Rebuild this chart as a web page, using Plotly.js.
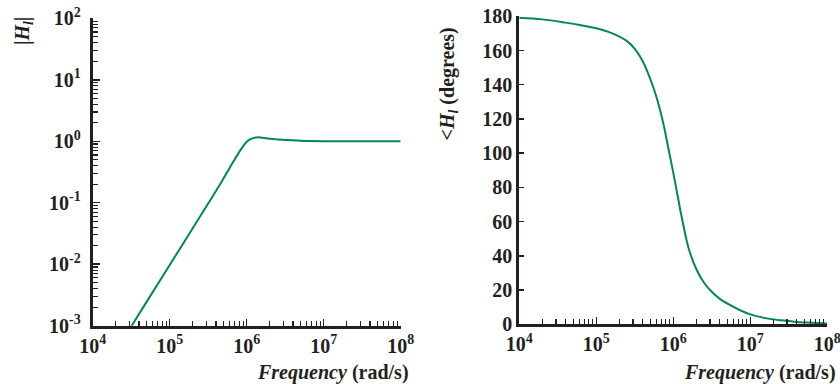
<!DOCTYPE html>
<html>
<head>
<meta charset="utf-8">
<script src="https://cdn.plot.ly/plotly-3.0.1.min.js"></script>
<style>html,body{margin:0;padding:0;background:#fff;}#chart{width:840px;height:384px;}</style>
</head>
<body>
<div id="chart"></div>
<script>
// Magnitude |H_l| vs frequency (rad/s)
var magFreq = [1e4, 3.16e4, 1e5, 2e5, 3.16e5, 4.27e5, 5.01e5, 6.31e5, 7.94e5, 8.91e5, 1e6, 1.12e6, 1.26e6, 1.41e6, 1.58e6, 2e6, 2.51e6, 3.16e6, 5.01e6, 1e7, 1e8];
var magVal  = [9.7e-5, 9.7e-4, 0.0097, 0.0388, 0.097, 0.178, 0.25, 0.41, 0.66, 0.82, 0.98, 1.08, 1.14, 1.16, 1.14, 1.10, 1.07, 1.045, 1.02, 1.005, 1.0];

// Phase <H_l (degrees) vs frequency (rad/s)
var phFreq = [1e4, 2e4, 3.98e4, 6.31e4, 1e5, 1.58e5, 2.51e5, 3.16e5, 3.98e5, 5.01e5, 6.03e5, 7.41e5, 8.32e5, 9.12e5, 1e6, 1.096e6, 1.2e6, 1.35e6, 1.58e6, 2e6, 2.51e6, 3.16e6, 3.98e6, 6.31e6, 1e7, 1.58e7, 2.51e7, 3.98e7, 6.31e7, 1e8];
var phVal  = [179.2, 178.2, 176.3, 174.8, 173.0, 170.2, 165.5, 161, 154, 143.5, 133, 117.5, 106.5, 97.5, 88.5, 79, 69.5, 58, 44.5, 32, 24.3, 19, 15, 9.8, 5.8, 3.6, 2.3, 1.4, 0.9, 0.5];

// Tick labels
var freqTickVals = [1e4, 1e5, 1e6, 1e7, 1e8];
var freqTickText = ['10<sup>4</sup>', '10<sup>5</sup>', '10<sup>6</sup>', '10<sup>7</sup>', '10<sup>8</sup>'];
var magTickVals = [1e-3, 1e-2, 1e-1, 1e0, 1e1, 1e2];
var magTickText = ['10<sup>-3</sup>', '10<sup>-2</sup>', '10<sup>-1</sup>', '10<sup>0</sup>', '10<sup>1</sup>', '10<sup>2</sup>'];
var phTickVals = [0, 20, 40, 60, 80, 100, 120, 140, 160, 180];

var green = '#00875a';
var axCol = '#231f20';
var fontFam = 'Liberation Serif';
var tickFont = {family: fontFam, size: 20, color: axCol, weight: 'bold'};
var pad = '\u00a0';

var traces = [
  {x: magFreq, y: magVal, type: 'scatter', mode: 'lines', line: {color: green, width: 2, shape: 'spline', smoothing: 1}, xaxis: 'x', yaxis: 'y', hoverinfo: 'skip'},
  {x: phFreq, y: phVal, type: 'scatter', mode: 'lines', line: {color: green, width: 2, shape: 'spline', smoothing: 1}, xaxis: 'x2', yaxis: 'y2', hoverinfo: 'skip'}
];

function logX(domain, anchor) {
  return {
    type: 'log', domain: domain, anchor: anchor, range: [4, 8],
    tickmode: 'array', tickvals: freqTickVals, ticktext: freqTickText,
    ticks: 'inside', ticklen: 7, tickwidth: 1.5, tickcolor: axCol,
    minor: {dtick: 'D1', ticks: 'inside', ticklen: 5, tickwidth: 1.2, tickcolor: axCol, showgrid: false},
    showline: true, linecolor: axCol, linewidth: 3, showgrid: false, zeroline: false,
    tickfont: tickFont, ticklabeloverflow: 'allow', fixedrange: true
  };
}

var layout = {
  width: 840, height: 384,
  margin: {l: 0, r: 0, t: 0, b: 0},
  paper_bgcolor: '#fff', plot_bgcolor: '#fff',
  showlegend: false,
  xaxis: logX([92.7/840, 400.7/840], 'y'),
  xaxis2: logX([519.3/840, 827.3/840], 'y2'),
  yaxis: {
    type: 'log', domain: [1 - 325.7/384, 1 - 18.3/384], anchor: 'x', range: [-3, 2],
    tickmode: 'array', tickvals: magTickVals, ticktext: magTickText.map(function (t) { return t + pad; }),
    ticks: 'inside', ticklen: 7, tickwidth: 1.5, tickcolor: axCol,
    minor: {dtick: 'D1', ticks: 'inside', ticklen: 5, tickwidth: 1.2, tickcolor: axCol, showgrid: false},
    showline: true, linecolor: axCol, linewidth: 3, showgrid: false, zeroline: false,
    tickfont: tickFont, ticklabeloverflow: 'allow', fixedrange: true
  },
  yaxis2: {
    domain: [1 - 324.3/384, 1 - 16.3/384], anchor: 'x2', range: [0, 180],
    tickmode: 'array', tickvals: phTickVals, ticksuffix: pad,
    ticks: 'inside', ticklen: 5, tickwidth: 1.5, tickcolor: axCol,
    showline: true, linecolor: axCol, linewidth: 3, showgrid: false, zeroline: false,
    tickfont: tickFont, ticklabeloverflow: 'allow', fixedrange: true
  },
  annotations: [
    {xref: 'paper', yref: 'paper', x: 23/840, y: 1 - 15/384, xanchor: 'center', yanchor: 'top', textangle: -90, showarrow: false,
     text: '<b>|<i>H<sub>l</sub></i>|</b>', font: {family: fontFam, size: 20, color: axCol}},
    {xref: 'paper', yref: 'paper', x: 448/840, y: 1 - 26/384, xanchor: 'center', yanchor: 'top', textangle: -90, showarrow: false,
     text: '<b>&lt;<i>H<sub>l</sub></i> (degrees)</b>', font: {family: fontFam, size: 20, color: axCol}},
    {xref: 'paper', yref: 'paper', x: 411/840, y: 1 - 372/384, xanchor: 'right', yanchor: 'middle', showarrow: false,
     text: '<b><i>Frequency</i> (rad/s)</b>', font: {family: fontFam, size: 20, color: axCol}},
    {xref: 'paper', yref: 'paper', x: 838/840, y: 1 - 372/384, xanchor: 'right', yanchor: 'middle', showarrow: false,
     text: '<b><i>Frequency</i> (rad/s)</b>', font: {family: fontFam, size: 20, color: axCol}}
  ]
};

Plotly.newPlot('chart', traces, layout, {staticPlot: true, displayModeBar: false});
</script>
</body>
</html>
